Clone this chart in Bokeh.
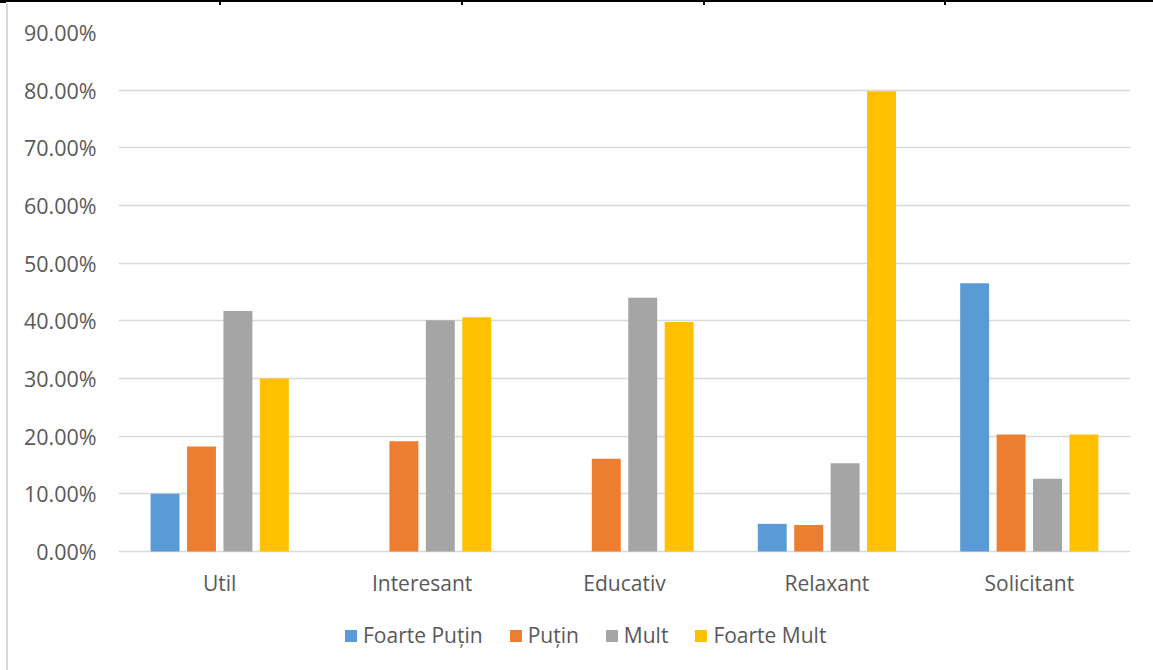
from bokeh.plotting import figure
from bokeh.models import (ColumnDataSource, FactorRange, Range1d, Legend, LegendItem,
                          NumeralTickFormatter)
from bokeh.core.properties import value
from bokeh.transform import dodge
from bokeh.embed import file_html
from bokeh.resources import INLINE

categories = ["Util", "Interesant", "Educativ", "Relaxant", "Solicitant"]
series_names = ["Foarte Puțin", "Puțin", "Mult", "Foarte Mult"]
foarte_putin = [10.0, 0.0, 0.0, 4.8, 46.5]
putin = [18.2, 19.1, 16.1, 4.6, 20.3]
mult = [41.7, 40.1, 44.0, 15.3, 12.6]
foarte_mult = [30.0, 40.6, 39.8, 79.8, 20.3]
y_ticks = [0, 10, 20, 30, 40, 50, 60, 70, 80, 90]

colors = ["#5B9BD5", "#ED7D31", "#A5A5A5", "#FFC000"]
offsets = [-0.27, -0.09, 0.09, 0.27]
FONT = "Open Sans"
TXT = "#595959"

source = ColumnDataSource(dict(
    cat=categories,
    base=[0.0] * len(categories),
    s0=[v / 100 for v in foarte_putin],
    s1=[v / 100 for v in putin],
    s2=[v / 100 for v in mult],
    s3=[v / 100 for v in foarte_mult],
))

# page decoration seen in the reference: black rule on top with table ticks, grey rule on the left
page_css = ("linear-gradient(#000,#000) 0 0 / 100% 2px no-repeat, "
            "linear-gradient(#000,#000) 0 0 / 6px 3px no-repeat, "
            "linear-gradient(#000,#000) 219px 0 / 2px 5px no-repeat, "
            "linear-gradient(#000,#000) 461px 0 / 2px 5px no-repeat, "
            "linear-gradient(#000,#000) 703px 0 / 2px 5px no-repeat, "
            "linear-gradient(#000,#000) 944px 0 / 2px 5px no-repeat, "
            "linear-gradient(#D9D9D9,#D9D9D9) 6px 3px / 2px 100% no-repeat, #fff")

# frame spans from the 90% line (y=32) down to the bottom of the canvas (y=670);
# the category labels and legend live in the area below the 0% line
p = figure(width=1153, height=670, x_range=FactorRange(*categories, range_padding=0),
           y_range=Range1d(-0.20636, 0.9), output_backend="svg", toolbar_location=None,
           min_border_left=118, min_border_right=23, min_border_top=32, min_border_bottom=0,
           styles={"background": page_css})
p.outline_line_color = None
p.background_fill_color = "white"
p.border_fill_color = None

renderers = []
for i, name in enumerate(series_names):
    r = p.vbar(x=dodge("cat", offsets[i], range=p.x_range), top="s%d" % i, width=0.143,
               source=source, fill_color=colors[i], line_color=None)
    renderers.append(r)

p.text(x="cat", y="base", text="cat", source=source, text_font=value(FONT),
       text_font_size="21px", text_color=TXT, text_align="center", text_baseline="middle",
       y_offset=32)

p.xaxis.visible = False
p.xgrid.grid_line_color = None
p.ygrid.grid_line_color = "#D9D9D9"
p.ygrid.grid_line_width = 1.5
p.yaxis.ticker = [t / 100 for t in y_ticks]
p.ygrid.ticker = [t / 100 for t in y_ticks]
p.yaxis.formatter = NumeralTickFormatter(format="0.00%")

ax = p.yaxis[0]
ax.axis_line_color = None
ax.major_tick_line_color = None
ax.minor_tick_line_color = None
ax.major_tick_out = 0
ax.major_tick_in = 0
ax.major_label_text_font = FONT
ax.major_label_text_color = TXT
ax.major_label_text_font_size = "21.5px"
ax.major_label_standoff = 22

legend = Legend(items=[LegendItem(label=n, renderers=[r]) for n, r in zip(series_names, renderers)],
                orientation="horizontal", location=(225, 21))
legend.label_text_font = FONT
legend.label_text_font_size = "21px"
legend.label_text_color = TXT
legend.glyph_width = 15
legend.glyph_height = 15
legend.label_standoff = 5
legend.spacing = 25
legend.padding = 0
legend.margin = 0
legend.border_line_color = None
legend.background_fill_alpha = 0
p.add_layout(legend, "center")

open("out.html", "w").write(file_html(p, INLINE))
